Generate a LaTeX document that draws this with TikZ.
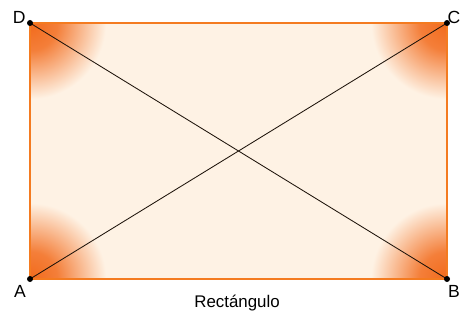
\documentclass[tikz,border=0pt]{standalone}
\usepackage{fontspec}
\setmainfont{Liberation Sans}
\usepackage{tikz}

\definecolor{rectfill}{HTML}{FEF2E4}
\definecolor{rectedge}{HTML}{F47B20}
\definecolor{cornerorange}{HTML}{F26A1B}

\pgfdeclareradialshading{cornerglow}{\pgfpoint{0bp}{0bp}}{%
  color(0bp)=(cornerorange); color(9bp)=(cornerorange!85!rectfill);
  color(25bp)=(rectfill); color(50bp)=(rectfill)}

\tikzset{
  vertex/.style={circle,fill=black,inner sep=0pt,minimum size=0.15cm},
  vlabel/.style={font=\fontsize{12.5}{14}\selectfont,inner sep=0pt},
  diagonal/.style={line width=0.6pt,black!85!brown}
}

\begin{document}
\begin{tikzpicture}[scale=1]

\useasboundingbox (-0.75,-1.075) rectangle (10.775,6.975);

% Vertices
\coordinate (A) at (0,0);
\coordinate (B) at (10.425,0);
\coordinate (C) at (10.425,6.4);
\coordinate (D) at (0,6.4);

% Rectangle
\fill[rectfill] (A) rectangle (C);

% Shaded right angles
\begin{scope}
  \clip (A) rectangle (C);
  \foreach \p in {A,B,C,D}
    \shade[shading=cornerglow] (\p) circle (1.9);
\end{scope}
\draw[rectedge,line width=2.1pt] (A) -- (B) -- (C) -- (D) -- cycle;

% Diagonals
\draw[diagonal] (A) -- (C);
\draw[diagonal] (B) -- (D);

% Corner points
\foreach \p in {A,B,C,D}
  \node[vertex] (dot\p) at (\p) {};

% Labels
\node[vlabel] (labA) at (-0.25,-0.3) {A};
\node[vlabel] (labB) at (10.6,-0.3) {B};
\node[vlabel] (labC) at (10.6,6.55) {C};
\node[vlabel] (labD) at (-0.27,6.55) {D};
\node[font=\fontsize{12}{14}\selectfont] (name) at (5.175,-0.6) {Rectángulo};

\end{tikzpicture}
\end{document}
